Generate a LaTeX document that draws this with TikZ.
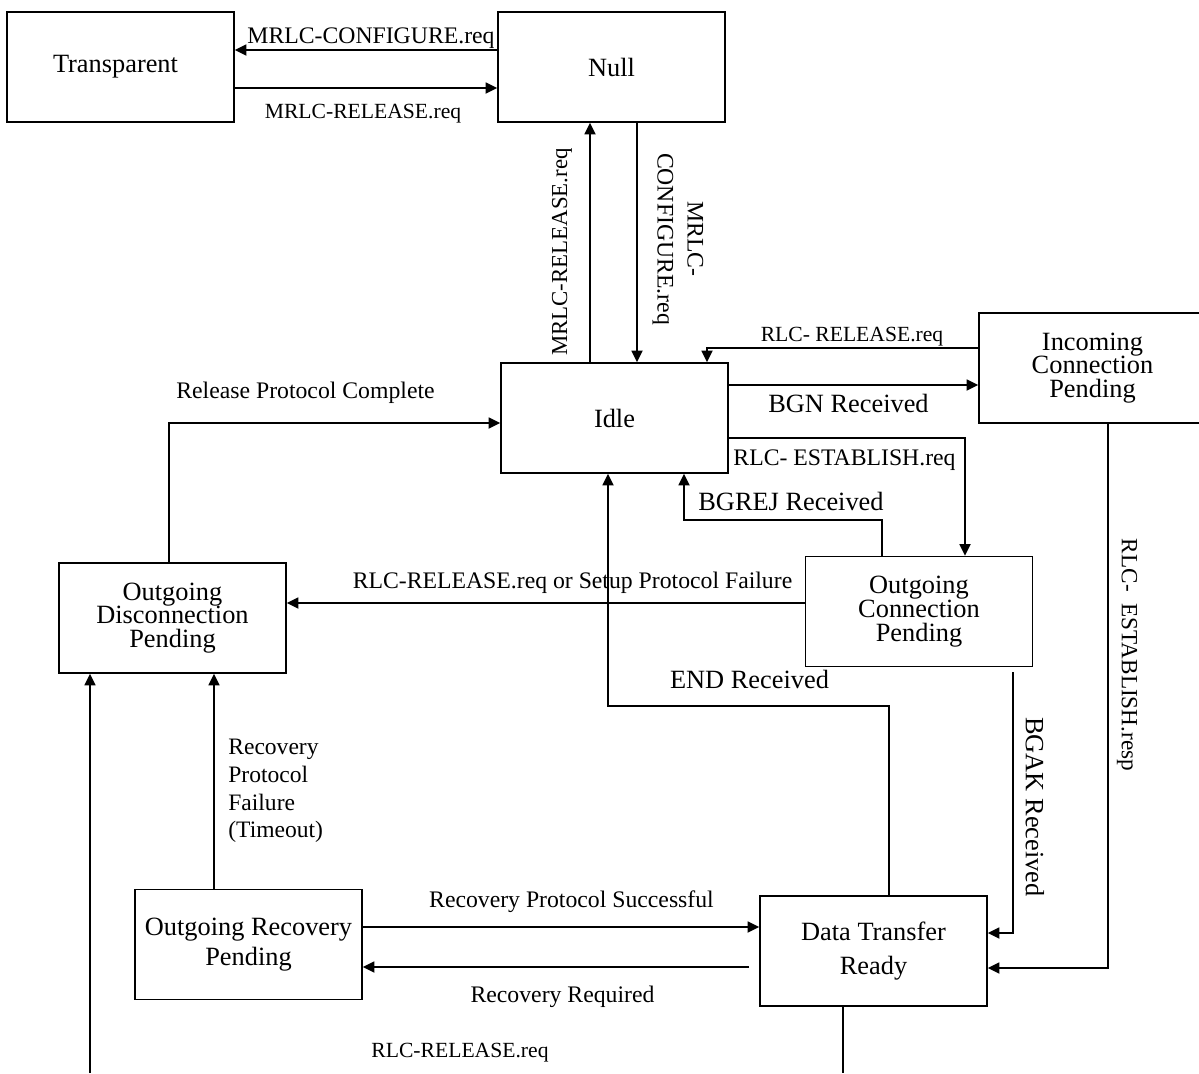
\documentclass[tikz,border=0pt]{standalone}
\usepackage{fontspec}
\setmainfont{Liberation Serif}
\usetikzlibrary{arrows.meta}
\tikzset{
  state/.style={draw, line width=1pt, minimum width=45.4mm, minimum height=22mm, inner sep=0pt, align=center, font=\fontsize{15}{13.5}\selectfont},
  arr/.style={line width=1pt, -{Triangle[length=2.3mm,width=2.2mm]}},
  link/.style={line width=1pt},
  lbig/.style={font=\fontsize{15}{18}\selectfont, inner sep=0pt},
  lmid/.style={font=\fontsize{13.5}{16}\selectfont, inner sep=0pt},
  lsmall/.style={font=\fontsize{12.3}{15}\selectfont, inner sep=0pt},
}
\begin{document}
\begin{tikzpicture}[x=0.2mm, y=-0.2mm]
    \useasboundingbox (0,0) rectangle (1199,1073);

    \node[state] (trans) at (120.5,67) {\raisebox{1mm}{Transparent}\hspace*{2mm}};
    \node[state] (null) at (611.5,67) {Null};
    \node[state] (idle) at (614.5,418) {Idle};
    \node[state] (inc) at (1092.5,368) {Incoming\\Connection\\Pending};
    \node[state] (ocp) at (919,611.5) {Outgoing\\Connection\\Pending};
    \node[state] (odp) at (172.5,618) {Outgoing\\Disconnection\\Pending};
    \node[state, font=\fontsize{15}{17}\selectfont] (orp) at (248.5,944.5) {Outgoing Recovery\\Pending};
    \node[state, font=\fontsize{15}{19}\selectfont] (dtr) at (873.5,951) {Data Transfer\\Ready};
    \coordinate (cutl) at (90,1073);
    \coordinate (cutr) at (843,1073);

    \draw[arr] (null.west |- 0,50) -- (trans.east |- 0,50);
    \draw[arr] (trans.east |- 0,88) -- (null.west |- 0,88);
    \draw[arr] (idle.north -| 590,0) -- (null.south -| 590,0);
    \draw[arr] (null.south -| 637,0) -- (idle.north -| 637,0);
    \draw[arr] (inc.west |- 0,348) -| (idle.north -| 707,0);
    \draw[arr] (idle.east |- 0,385) -- (inc.west |- 0,385);
    \draw[arr] (idle.east |- 0,438) -| (ocp.north -| 965,0);
    \draw[arr] (ocp.north -| 882,0) -- ++(0,-36) -| (idle.south -| 684,0);
    \draw[arr] (ocp.west |- 0,603) -- (odp.east |- 0,603);
    \draw[arr] (odp.north -| 169,0) |- (idle.west |- 0,423);
    \draw[arr] (dtr.north -| 889,0) -- ++(0,-189) -| (idle.south -| 608,0);
    \draw[arr, shorten <=1mm] (ocp.south -| 1013,0) |- (dtr.east |- 0,933);
    \draw[arr] (inc.south -| 1108,0) |- (dtr.east |- 0,968);
    \draw[arr] (orp.east |- 0,927) -- (dtr.west |- 0,927);
    \draw[arr, shorten <=2mm] (dtr.west |- 0,967) -- (orp.east |- 0,967);
    \draw[arr] (orp.north -| 214,0) -- (odp.south -| 214,0);
    \draw[link] (dtr.south -| cutr) -- (cutr);
    \draw[arr] (cutl) -- (odp.south -| cutl);

    \node[lmid, anchor=base] (lcfg) at (371,43) {MRLC-CONFIGURE.req};
    \node[lsmall, anchor=base] (lrel) at (363,118) {MRLC-RELEASE.req};
    \node[lsmall, rotate=90, font=\fontsize{13}{15}\selectfont] (lrelv) at (562,252) {MRLC-RELEASE.req};
    \node[lmid, rotate=-90, align=center, font=\fontsize{13.5}{17}\selectfont] (lcfgv) at (678,239) {MRLC-\\CONFIGURE.req};
    \node[lsmall, anchor=base] (lrlcrel) at (852,341) {RLC- RELEASE.req};
    \node[lbig, anchor=base] (lbgn) at (848.5,412) {BGN Received};
    \node[lmid, anchor=base] (lest) at (844.5,465) {RLC- ESTABLISH.req};
    \node[lbig, anchor=base] (lbgrej) at (791,510) {BGREJ Received};
    \node[lmid, anchor=base] (lrpc) at (305.5,398) {Release Protocol Complete};
    \node[lmid, anchor=base] (lfail) at (572.5,588) {RLC-RELEASE.req or Setup Protocol Failure};
    \node[lbig, anchor=base] (lend) at (749.5,688) {END Received};
    \node[lbig, rotate=-90] (lbgak) at (1035,807) {BGAK Received};
    \node[lsmall, rotate=-90, font=\fontsize{13.2}{15}\selectfont] (lresp) at (1127,655) {RLC-\ \ ESTABLISH.resp};
    \node[lmid, anchor=west, align=left, font=\fontsize{13.4}{15.8}\selectfont] (ltime) at (228,791) {Recovery\\Protocol\\Failure\\(Timeout)};
    \node[lmid, anchor=base] (lsucc) at (571.5,907) {Recovery Protocol Successful};
    \node[lmid, anchor=base] (lreq) at (562.5,1002) {Recovery Required};
    \node[lsmall, anchor=base] (lbot) at (460,1057) {RLC-RELEASE.req};
\end{tikzpicture}
\end{document}
